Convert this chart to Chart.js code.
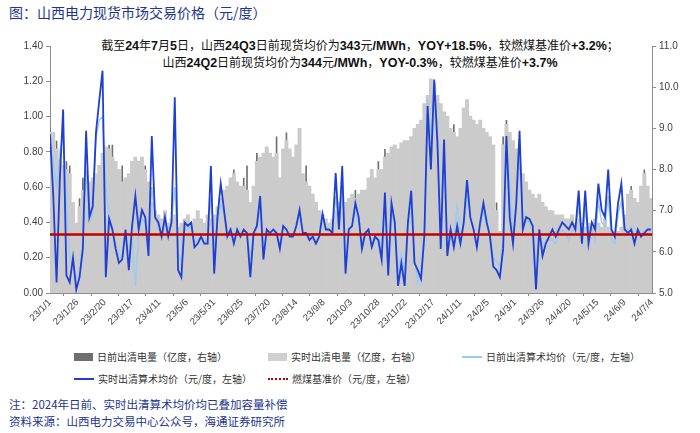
<!DOCTYPE html>
<html>
<head>
<meta charset="utf-8">
<script src="https://cdn.jsdelivr.net/npm/chart.js@4"></script>
<style>
body { margin:0; width:700px; height:433px; background:#fff; position:relative; overflow:hidden; font-family:"Noto Sans CJK SC", sans-serif; }
#title { position:absolute; left:9px; top:3px; font-size:14px; line-height:18px; color:#22348f; }
.anno { position:absolute; left:0; width:720px; text-align:center; font-size:12px; line-height:16px; color:#111; white-space:nowrap; }
.anno b { font-family:"Liberation Sans", Arial, sans-serif; font-size:12.5px; }
#wrap { position:absolute; left:0; top:30px; width:700px; height:310px; }
.leg { position:absolute; font-size:10px; line-height:12px; color:#333; white-space:nowrap; }
.sw { display:inline-block; vertical-align:middle; margin-right:4px; position:relative; top:-1px; }
.src { position:absolute; left:9px; font-size:11.5px; line-height:14px; color:#22348f; white-space:nowrap; }
</style>
</head>
<body>
<div id="title">图：山西电力现货市场交易价格（元/度）</div>
<div class="anno" style="top:37px">截至<b>24</b>年<b>7</b>月<b>5</b>日，山西<b>24Q3</b>日前现货均价为<b>343</b>元<b>/MWh</b>，<b>YOY+18.5%</b>，较燃煤基准价<b>+3.2%</b>；</div>
<div class="anno" style="top:54px">山西<b>24Q2</b>日前现货均价为<b>344</b>元<b>/MWh</b>，<b>YOY-0.3%</b>，较燃煤基准价<b>+3.7%</b></div>
<div id="wrap"><canvas id="chart" width="700" height="310"></canvas></div>

<div class="leg" style="left:74px;top:351px"><span class="sw" style="width:19px;height:8px;background:#6f6f6f"></span>日前出清电量（亿度，右轴）</div>
<div class="leg" style="left:268px;top:351px"><span class="sw" style="width:19px;height:8px;background:#d0d0d0"></span>实时出清电量（亿度，右轴）</div>
<div class="leg" style="left:462px;top:351px"><span class="sw" style="width:20px;height:2px;background:#9fcaf0"></span>日前出清算术均价（元/度，左轴）</div>
<div class="leg" style="left:74px;top:373px"><span class="sw" style="width:20px;height:2px;background:#1f3fd3"></span>实时出清算术均价（元/度，左轴）</div>
<div class="leg" style="left:268px;top:373px"><span class="sw" style="width:20px;height:0;border-top:2px dotted #c00000"></span>燃煤基准价（元/度，左轴）</div>

<div class="src" style="top:397px">注：2024年日前、实时出清算术均价均已叠加容量补偿</div>
<div class="src" style="top:414px">资料来源：山西电力交易中心公众号，海通证券研究所</div>

<script>
// x axis tick labels, one every 25 days from 23/1/1
const tickLabels = ['23/1/1','23/1/26','23/2/20','23/3/17','23/4/11','23/5/6','23/5/31','23/6/25','23/7/20','23/8/14',
    '23/9/8','23/10/3','23/10/28','23/11/22','23/12/17','24/1/11','24/2/5','24/3/1','24/3/26','24/4/20',
    '24/5/15','24/6/9','24/7/4'];

const STEP_DAYS  = 3;     // one reading every 3 days
const TOTAL_DAYS = 550;
const COAL_PRICE = 0.332; // 燃煤基准价, 元/度

// 实时出清算术均价 (元/度, left axis)
const rtPrice = [
    0.90,0.55,0.06,0.65,1.04,0.10,0.06,0.20,0.02,0.09,
    0.25,0.92,0.43,0.49,0.91,1.09,1.26,0.09,0.42,0.36,
    0.25,0.17,0.19,0.36,0.13,0.38,0.55,0.36,0.47,0.43,
    0.21,0.89,0.43,0.40,0.32,0.43,0.32,0.40,1.11,0.13,
    0.09,0.40,0.38,0.40,0.26,0.28,0.32,0.28,0.28,0.72,
    0.11,0.43,0.62,0.47,0.32,0.36,0.28,0.36,0.32,0.36,
    0.34,0.09,0.34,0.38,0.55,0.19,0.36,0.34,0.36,0.34,
    0.25,0.38,0.36,0.32,0.32,0.38,0.47,0.34,0.34,0.30,
    0.32,0.28,0.32,0.45,0.36,0.36,0.34,0.68,0.36,0.72,
    0.11,0.36,0.38,0.51,0.43,0.25,0.34,0.36,0.26,0.32,
    0.30,0.19,0.57,0.10,0.51,0.40,0.04,0.17,0.04,0.40,
    0.58,0.17,0.13,0.08,0.32,1.06,0.70,1.21,0.85,0.25,
    0.87,0.21,0.36,0.26,0.38,0.28,0.40,0.64,0.43,0.36,
    0.26,0.40,0.51,0.40,0.32,0.15,0.13,0.09,0.25,0.89,
    0.43,0.28,0.51,0.92,0.36,0.43,0.42,0.38,0.02,0.36,
    0.21,0.28,0.32,0.36,0.32,0.36,0.40,0.38,0.36,0.40,
    0.36,0.58,0.28,0.58,0.28,0.40,0.36,0.62,0.47,0.43,
    0.70,0.36,0.32,0.51,0.62,0.36,0.34,0.36,0.28,0.36,
    0.32,0.34,0.36,0.36
];

// 日前出清算术均价 (元/度, left axis)
const daPrice = [
    0.85,0.75,0.60,0.80,0.90,0.55,0.20,0.15,0.08,0.10,
    0.30,0.70,0.40,0.45,0.88,0.98,1.00,0.60,0.45,0.36,
    0.28,0.22,0.20,0.32,0.20,0.30,0.04,0.33,0.42,0.40,
    0.28,0.60,0.42,0.38,0.33,0.40,0.33,0.40,0.60,0.22,
    0.18,0.36,0.36,0.38,0.28,0.30,0.32,0.30,0.30,0.55,
    0.25,0.40,0.50,0.45,0.34,0.36,0.30,0.35,0.33,0.35,
    0.34,0.20,0.33,0.37,0.48,0.26,0.35,0.34,0.35,0.34,
    0.28,0.37,0.35,0.33,0.33,0.37,0.44,0.34,0.34,0.31,
    0.32,0.30,0.32,0.42,0.36,0.35,0.34,0.55,0.38,0.62,
    0.20,0.36,0.37,0.46,0.40,0.28,0.34,0.35,0.28,0.32,
    0.31,0.24,0.48,0.18,0.45,0.38,0.12,0.22,0.10,0.36,
    0.50,0.22,0.04,0.15,0.40,1.10,0.88,1.12,0.80,0.35,
    0.78,0.28,0.36,0.30,0.50,0.34,0.38,0.55,0.42,0.36,
    0.30,0.38,0.46,0.38,0.33,0.20,0.18,0.15,0.30,0.80,
    0.64,0.32,0.48,0.80,0.38,0.42,0.40,0.36,0.15,0.34,
    0.26,0.30,0.30,0.30,0.28,0.34,0.36,0.34,0.30,0.36,
    0.34,0.50,0.26,0.48,0.30,0.36,0.30,0.52,0.40,0.38,
    0.55,0.30,0.28,0.45,0.52,0.32,0.34,0.38,0.32,0.36,
    0.34,0.35,0.36,0.35
];

// 实时出清电量 (亿度, right axis)
const rtVolume = [
    8.9,8.9,8.5,8.2,8.1,8.0,7.9,7.2,6.7,7.1,
    7.5,7.6,7.7,7.8,7.9,8.1,8.4,8.55,8.5,8.3,
    8.2,8.0,7.7,7.8,7.9,8.2,8.3,8.2,8.3,8.0,
    7.7,7.2,7.0,6.9,6.8,7.0,6.7,6.8,6.9,6.6,
    6.7,6.8,6.9,6.7,6.8,7.0,6.8,6.7,6.9,6.8,
    6.9,7.1,7.3,7.5,7.6,7.8,7.9,7.7,7.6,7.6,
    7.5,7.2,7.6,8.2,8.3,8.4,8.55,8.4,8.3,8.4,
    7.8,8.5,8.7,8.5,8.3,8.6,9.0,7.9,7.7,7.6,
    7.4,7.2,7.0,6.9,6.8,6.7,6.8,7.0,7.2,7.3,
    7.2,7.3,7.4,7.3,7.4,7.5,7.5,7.8,8.0,7.8,
    8.0,8.0,8.3,8.4,8.55,8.6,8.5,8.65,8.7,8.7,
    8.8,9.0,9.1,9.2,9.6,9.8,10.2,10.1,9.8,9.6,
    9.4,9.3,9.0,8.9,8.8,9.0,9.5,9.7,9.3,9.2,
    9.1,9.2,9.0,8.9,8.8,8.6,7.0,6.5,8.6,9.1,
    8.9,8.7,8.5,8.0,7.9,7.7,7.5,7.4,7.3,7.4,
    7.2,7.1,7.0,7.0,6.9,6.9,6.9,6.8,6.8,6.9,
    6.7,6.8,6.7,6.6,6.7,6.6,6.8,6.7,6.6,6.8,
    6.6,6.5,6.4,6.5,6.6,6.9,7.4,7.5,7.3,7.2,
    7.6,7.9,7.6,7.3
];

// 日前出清电量 (亿度, right axis)
const daVolume = [
    9.0,8.8,8.7,8.3,8.0,8.2,8.1,7.0,6.6,7.3,
    7.8,7.5,7.6,7.7,7.8,8.0,8.2,8.4,8.6,8.6,
    8.1,7.9,8.1,7.7,7.8,8.0,8.1,8.0,8.2,8.1,
    7.6,7.0,6.9,6.8,6.7,6.9,6.6,6.7,6.8,6.5,
    6.6,6.7,6.8,6.6,6.7,6.9,6.7,6.6,6.8,6.7,
    6.8,7.0,7.2,7.4,7.5,7.7,8.0,7.6,7.5,7.8,
    8.1,7.1,7.5,8.4,8.2,8.3,8.4,8.3,8.2,8.8,
    7.7,8.4,8.9,8.4,8.2,8.5,8.9,7.8,8.1,7.5,
    7.3,7.1,6.9,6.8,6.7,6.6,6.7,6.9,7.1,7.2,
    7.1,7.2,7.3,7.5,7.3,7.4,7.4,7.7,8.0,7.7,
    8.2,7.9,8.5,8.3,8.4,8.5,8.4,8.6,8.6,8.6,
    8.7,8.9,9.0,9.1,9.5,9.7,10.1,10.0,9.7,9.5,
    9.3,9.2,8.9,9.1,8.7,8.9,9.4,9.6,9.2,9.1,
    9.0,9.1,8.9,8.8,8.7,8.5,7.2,6.4,8.8,9.2,
    8.8,8.6,8.4,8.1,7.8,7.6,7.4,7.3,7.2,7.3,
    7.1,7.0,6.9,6.9,6.8,6.8,6.8,6.7,6.7,6.8,
    6.6,6.7,6.6,6.5,6.6,6.5,6.7,6.6,6.5,6.7,
    6.5,6.4,6.3,6.4,6.5,6.8,7.3,7.6,7.2,7.1,
    7.5,8.0,7.5,7.2
];

const days = rtPrice.map((_, i) => i * STEP_DAYS);
const pts = (arr) => arr.map((v, i) => ({ x: days[i], y: v }));

const AXIS_COLOR = "#8c8c8c";
const TICK_FONT = { family: "'Liberation Sans', Arial, sans-serif", size: 10 };

const ctx = document.getElementById("chart").getContext("2d");
new Chart(ctx, {
    type: "bar",
    data: {
        datasets: [
            {   // red benchmark line on top
                type: "line", label: "燃煤基准价（元/度，左轴）",
                data: [{ x: 0, y: COAL_PRICE }, { x: TOTAL_DAYS, y: COAL_PRICE }],
                borderColor: "#c00000", borderWidth: 2.5, pointRadius: 0,
                yAxisID: "yL", order: 0
            },
            {
                type: "line", label: "实时出清算术均价（元/度，左轴）",
                data: pts(rtPrice),
                borderColor: "#1f3fd3", borderWidth: 1.8, pointRadius: 0, tension: 0,
                yAxisID: "yL", order: 1
            },
            {
                type: "line", label: "日前出清算术均价（元/度，左轴）",
                data: pts(daPrice),
                borderColor: "#9fcaf0", borderWidth: 1.5, pointRadius: 0, tension: 0,
                yAxisID: "yL", order: 2
            },
            {
                label: "实时出清电量（亿度，右轴）",
                data: pts(rtVolume),
                backgroundColor: "#cbcbcb",
                grouped: false, barPercentage: 1, categoryPercentage: 1,
                yAxisID: "yR", order: 3
            },
            {
                label: "日前出清电量（亿度，右轴）",
                data: pts(daVolume),
                backgroundColor: "#6f6f6f",
                grouped: false, barPercentage: 0.5, categoryPercentage: 1,
                yAxisID: "yR", order: 4
            }
        ]
    },
    options: {
        responsive: false,
        animation: false,
        layout: { padding: { top: 16, left: 0, right: 0, bottom: 0 } },
        plugins: { legend: { display: false }, tooltip: { enabled: false } },
        scales: {
            x: {
                type: "linear", min: 0, max: TOTAL_DAYS, offset: false,
                afterFit: (s) => { s.height = 47; },
                ticks: {
                    stepSize: 25, autoSkip: false, maxRotation: 45, minRotation: 45,
                    color: "#404040", font: { family: TICK_FONT.family, size: 9.5 }, padding: 1,
                    callback: (v) => tickLabels[Math.round(v / 25)] ?? ""
                },
                grid: { drawOnChartArea: false, tickLength: 3, color: AXIS_COLOR },
                border: { color: AXIS_COLOR }
            },
            yL: {
                position: "left", min: 0, max: 1.4,
                afterFit: (s) => { s.width = 50; },
                ticks: { stepSize: 0.2, color: "#404040", font: TICK_FONT, padding: 3,
                         callback: (v) => v.toFixed(2) },
                grid: { drawOnChartArea: false, tickLength: 4, color: AXIS_COLOR },
                border: { color: AXIS_COLOR }
            },
            yR: {
                position: "right", min: 5, max: 11,
                afterFit: (s) => { s.width = 48; },
                ticks: { stepSize: 1, color: "#404040", font: TICK_FONT, padding: 3,
                         callback: (v) => v.toFixed(1) },
                grid: { drawOnChartArea: false, tickLength: 4, color: AXIS_COLOR },
                border: { color: AXIS_COLOR }
            }
        }
    }
});
</script>
</body>
</html>
